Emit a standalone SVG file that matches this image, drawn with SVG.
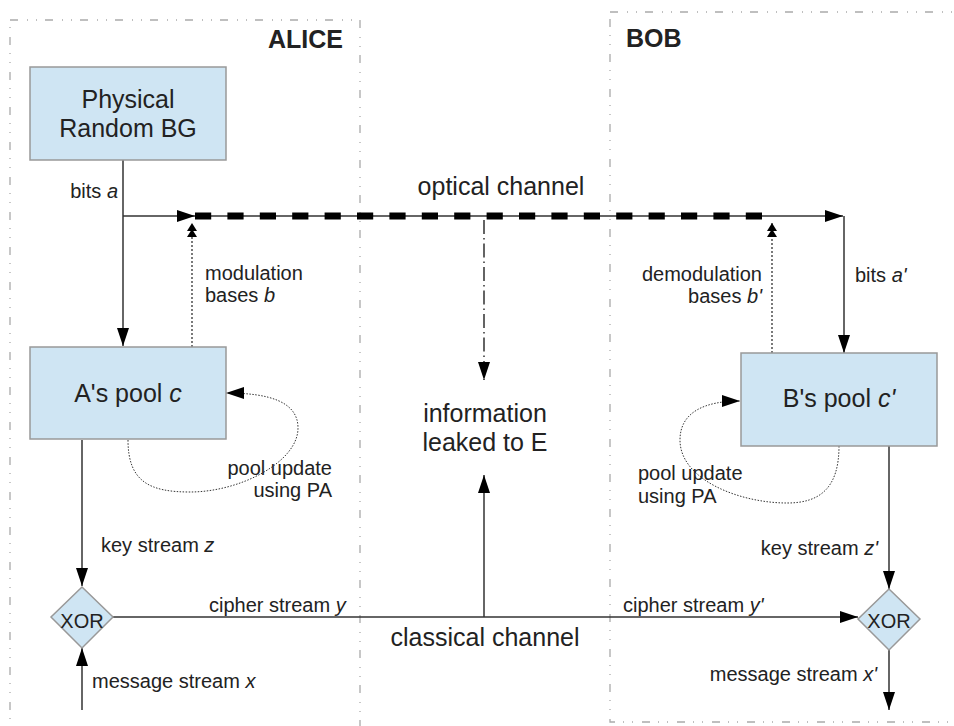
<svg xmlns="http://www.w3.org/2000/svg" width="954" height="726" viewBox="0 0 954 726">
<style>
text{font-family:"Liberation Sans",Arial,sans-serif;fill:#222}
.big{font-size:25px}
.lab{font-size:20px}
.hdr{font-size:25px;font-weight:bold}
.frame{fill:none;stroke:#aaa;stroke-width:1.3;stroke-dasharray:8 9 1 8 1 8}
.box{fill:#cfe5f3;stroke:#999;stroke-width:1.5}
.ln{fill:none;stroke:#333;stroke-width:1.5}
.dot{fill:none;stroke:#333;stroke-width:1.3;stroke-dasharray:2 2}
.dot2{fill:none;stroke:#333;stroke-width:1;stroke-dasharray:1.5 1.5}
.dd{fill:none;stroke:#111;stroke-width:1.3;stroke-dasharray:14 4 1.5 4}
.thick{fill:none;stroke:#000;stroke-width:7;stroke-dasharray:16.2 16.2}
i{font-style:italic}
</style>
<defs>
<marker id="arr" markerUnits="userSpaceOnUse" markerWidth="18" markerHeight="12" refX="18" refY="6" orient="auto" viewBox="0 0 18 12">
<path d="M0,0 L18,6 L0,12 z" fill="#000"/>
</marker>
<marker id="arr2" markerUnits="userSpaceOnUse" markerWidth="14" markerHeight="12" refX="14" refY="6" orient="auto" viewBox="0 0 14 12">
<path d="M0,1 L8,6 L0,11 z M6,1 L14,6 L6,11 z" fill="#000"/>
</marker>
</defs>
<rect width="954" height="726" fill="#fff"/>

<g id="alice-frame">
<rect class="frame" x="10" y="20" width="350" height="730"/>
<text class="hdr" x="343" y="48" text-anchor="end">ALICE</text>
</g>
<g id="bob-frame">
<rect class="frame" x="610" y="12" width="400" height="710"/>
<text class="hdr" x="626" y="47">BOB</text>
</g>

<g id="connectors">
<path class="ln" d="M123,160 V346" marker-end="url(#arr)"/>
<path class="ln" d="M123,216 H195" marker-end="url(#arr)"/>
<path class="ln" d="M195,216 H843" marker-end="url(#arr)"/>
<path class="thick" d="M195,216 H763"/>
<path class="ln" d="M844,216 V353" marker-end="url(#arr)"/>
<path class="dot" d="M192,347 V223" marker-end="url(#arr2)"/>
<path class="dot" d="M772,353 V223" marker-end="url(#arr2)"/>
<path class="dd" d="M484,220 V380" marker-end="url(#arr)"/>
<path class="dot2" d="M128,440 C128,482 150,492 190,492 C240,492 298,462 298,428 C298,402 270,393 226,393" marker-end="url(#arr)"/>
<path class="dot2" d="M839,446 C839,488 820,503 787,503 C740,503 680,480 680,440 C680,412 705,401 740,401" marker-end="url(#arr)"/>
<path class="ln" d="M82,440 V586" marker-end="url(#arr)"/>
<path class="ln" d="M82,710 V648" marker-end="url(#arr)"/>
<path class="ln" d="M113,617 H858" marker-end="url(#arr)"/>
<path class="ln" d="M484,617 V475" marker-end="url(#arr)"/>
<path class="ln" d="M889,446 V589" marker-end="url(#arr)"/>
<path class="ln" d="M889,650 V710" marker-end="url(#arr)"/>
</g>

<g id="prbg">
<rect class="box" x="30" y="67" width="196" height="93"/>
<text class="big" x="128" y="108" text-anchor="middle">Physical</text>
<text class="big" x="128" y="137" text-anchor="middle">Random BG</text>
</g>
<g id="pool-a">
<rect class="box" x="30" y="347" width="196" height="92"/>
<text class="big" x="128" y="402" text-anchor="middle">A's pool <tspan font-style="italic">c</tspan></text>
</g>
<g id="pool-b">
<rect class="box" x="741" y="353" width="196" height="93"/>
<text class="big" x="839" y="407" text-anchor="middle">B's pool <tspan font-style="italic">c'</tspan></text>
</g>
<g id="xor-a">
<path class="box" d="M82,587 L113,617 L82,648 L51,617 z"/>
<text class="lab" x="82" y="628" text-anchor="middle">XOR</text>
</g>
<g id="xor-b">
<path class="box" d="M889,589 L920,619 L889,650 L858,619 z"/>
<text class="lab" x="889" y="628" text-anchor="middle">XOR</text>
</g>
<g id="info-e">
<text class="big" x="485" y="422" text-anchor="middle">information</text>
<text class="big" x="485" y="451" text-anchor="middle">leaked to E</text>
</g>

<g id="labels">
<text class="lab" x="118" y="198" text-anchor="end">bits <tspan font-style="italic">a</tspan></text>
<text class="big" x="501" y="195" text-anchor="middle">optical channel</text>
<text class="lab" x="205" y="280">modulation</text>
<text class="lab" x="205" y="302">bases <tspan font-style="italic">b</tspan></text>
<text class="lab" x="762" y="281" text-anchor="end">demodulation</text>
<text class="lab" x="762" y="303" text-anchor="end">bases <tspan font-style="italic">b'</tspan></text>
<text class="lab" x="855" y="282">bits <tspan font-style="italic">a'</tspan></text>
<text class="lab" x="332" y="475" text-anchor="end">pool update</text>
<text class="lab" x="332" y="497" text-anchor="end">using PA</text>
<text class="lab" x="638" y="480">pool update</text>
<text class="lab" x="638" y="503">using PA</text>
<text class="lab" x="101" y="552">key stream <tspan font-style="italic">z</tspan></text>
<text class="lab" x="878" y="555" text-anchor="end">key stream <tspan font-style="italic">z'</tspan></text>
<text class="lab" x="209" y="612">cipher stream <tspan font-style="italic">y</tspan></text>
<text class="lab" x="623" y="612">cipher stream <tspan font-style="italic">y'</tspan></text>
<text class="big" x="485" y="646" text-anchor="middle">classical channel</text>
<text class="lab" x="92" y="688">message stream <tspan font-style="italic">x</tspan></text>
<text class="lab" x="877" y="681" text-anchor="end">message stream <tspan font-style="italic">x'</tspan></text>
</g>
</svg>
